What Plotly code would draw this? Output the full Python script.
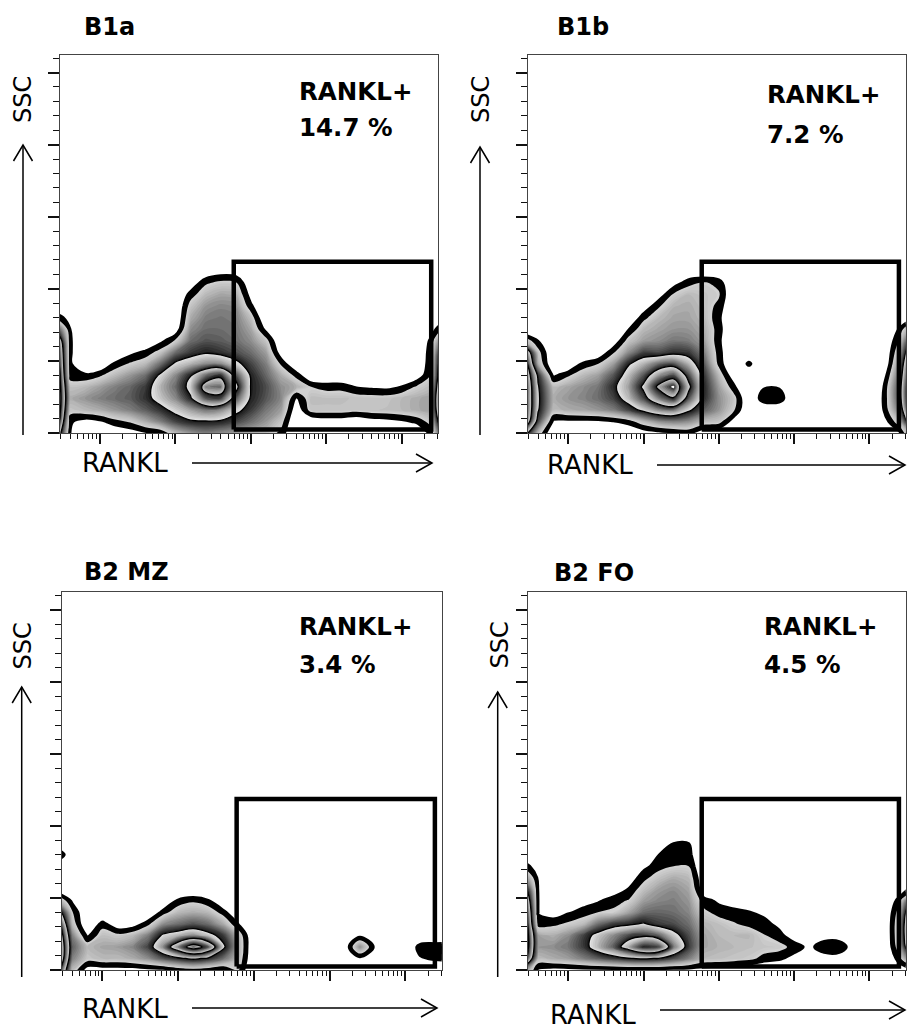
import math
import plotly.graph_objects as go

# ---------------------------------------------------------------------------
# Data
# ---------------------------------------------------------------------------
PANELS = ["B1a", "B1b", "B2 MZ", "B2 FO"]
RANKL_POSITIVE_PCT = [14.7, 7.2, 3.4, 4.5]

# RANKL gate (same gate on every plot): fluorescence and SSC limits
GATE_RANKL = [593, 246600]
GATE_SSC = [2400, 118750]

# Density grid: columns are RANKL bins (log10 of fluorescence),
# rows are SSC bins.  Values are relative event-density levels.
LOG_BINS = [0.4, 0.6, 0.8, 1.0, 1.2, 1.4, 1.6, 1.8, 2.0, 2.2, 2.4, 2.6, 2.8,
            3.0, 3.2, 3.4, 3.6, 3.8, 4.0, 4.2, 4.4, 4.6, 4.8, 5.0, 5.2, 5.4, 5.6]
SSC_BINS = [0, 8000, 16000, 24000, 32000, 40000, 48000, 56000, 64000,
            72000, 80000, 88000, 96000, 104000, 112000, 120000, 128000]

B1A_DENSITY = [
    [6.0, 1.0, 0.0, 0.0, 0.3, 0.5, 0.8, 1.0, 2.0, 2.5, 2.8, 2.6, 2.4, 2.2, 2.0, 1.3, 0.0, 0.0, 0.0, 0.0, 0.0, 0.0, 0.0, 0.0, 0.2, 1.2, 5.0],
    [8.0, 1.1, 0.6, 0.8, 1.3, 1.6, 2.2, 2.8, 3.5, 3.9, 3.95, 3.9, 3.5, 3.0, 2.5, 1.8, 0.0, 0.2, 0.4, 0.4, 0.2, 0.5, 0.6, 0.8, 1.1, 1.8, 7.0],
    [8.5, 1.8, 2.0, 2.2, 2.5, 2.8, 3.2, 3.7, 4.3, 4.8, 5.2, 5.0, 4.3, 3.6, 2.9, 2.4, 0.3, 1.8, 1.85, 1.85, 1.75, 1.85, 1.9, 2.0, 2.2, 2.4, 8.0],
    [8.5, 2.2, 2.5, 2.8, 3.0, 3.2, 3.7, 4.4, 5.0, 5.9, 7.4, 7.6, 5.5, 3.9, 3.3, 2.7, 0.8, 1.95, 1.9, 1.9, 1.85, 1.8, 1.8, 2.0, 2.2, 2.4, 8.5],
    [8.5, 1.9, 2.0, 2.4, 2.8, 3.1, 3.6, 4.6, 5.3, 6.3, 8.6, 8.7, 6.4, 3.95, 3.4, 2.6, 2.2, 1.5, 1.3, 1.3, 0.9, 0.8, 0.7, 1.0, 1.6, 2.0, 8.2],
    [8.5, 1.2, 1.1, 1.4, 2.0, 2.5, 3.0, 4.2, 5.0, 5.95, 7.2, 7.8, 5.6, 3.9, 3.1, 2.2, 1.3, 0.0, 0.0, 0.0, 0.0, 0.0, 0.0, 0.0, 0.4, 1.6, 7.5],
    [8.0, 1.1, 0.0, 0.0, 1.1, 1.6, 2.0, 3.0, 4.2, 4.6, 5.0, 5.0, 4.3, 3.5, 2.8, 1.4, 0.0, 0.0, 0.0, 0.0, 0.0, 0.0, 0.0, 0.0, 0.0, 1.5, 7.0],
    [7.5, 1.1, 0.0, 0.0, 0.0, 0.7, 1.1, 1.8, 3.0, 3.6, 3.9, 3.7, 3.4, 3.0, 2.4, 0.4, 0.0, 0.0, 0.0, 0.0, 0.0, 0.0, 0.0, 0.0, 0.0, 1.4, 6.0],
    [6.5, 1.1, 0.0, 0.0, 0.0, 0.0, 0.0, 0.7, 1.6, 3.0, 3.3, 3.2, 3.0, 2.6, 1.8, 0.0, 0.0, 0.0, 0.0, 0.0, 0.0, 0.0, 0.0, 0.0, 0.0, 1.2, 4.0],
    [4.0, 1.0, 0.0, 0.0, 0.0, 0.0, 0.0, 0.0, 0.3, 2.6, 3.0, 3.0, 2.9, 2.3, 0.7, 0.0, 0.0, 0.0, 0.0, 0.0, 0.0, 0.0, 0.0, 0.0, 0.0, 0.6, 2.0],
    [1.6, 0.5, 0.0, 0.0, 0.0, 0.0, 0.0, 0.0, 0.0, 2.2, 2.8, 2.9, 2.8, 1.9, 0.0, 0.0, 0.0, 0.0, 0.0, 0.0, 0.0, 0.0, 0.0, 0.0, 0.0, 0.0, 0.8],
    [0.0, 0.0, 0.0, 0.0, 0.0, 0.0, 0.0, 0.0, 0.0, 1.8, 2.5, 2.7, 2.6, 1.1, 0.0, 0.0, 0.0, 0.0, 0.0, 0.0, 0.0, 0.0, 0.0, 0.0, 0.0, 0.0, 0.0],
    [0.0, 0.0, 0.0, 0.0, 0.0, 0.0, 0.0, 0.0, 0.0, 1.2, 2.0, 2.3, 2.2, 0.6, 0.0, 0.0, 0.0, 0.0, 0.0, 0.0, 0.0, 0.0, 0.0, 0.0, 0.0, 0.0, 0.0],
    [0.0, 0.0, 0.0, 0.0, 0.0, 0.0, 0.0, 0.0, 0.0, 0.4, 1.4, 1.7, 1.6, 0.3, 0.0, 0.0, 0.0, 0.0, 0.0, 0.0, 0.0, 0.0, 0.0, 0.0, 0.0, 0.0, 0.0],
    [0.0, 0.0, 0.0, 0.0, 0.0, 0.0, 0.0, 0.0, 0.0, 0.0, 0.3, 0.6, 0.5, 0.0, 0.0, 0.0, 0.0, 0.0, 0.0, 0.0, 0.0, 0.0, 0.0, 0.0, 0.0, 0.0, 0.0],
    [0.0, 0.0, 0.0, 0.0, 0.0, 0.0, 0.0, 0.0, 0.0, 0.0, 0.0, 0.0, 0.0, 0.0, 0.0, 0.0, 0.0, 0.0, 0.0, 0.0, 0.0, 0.0, 0.0, 0.0, 0.0, 0.0, 0.0],
    [0.0, 0.0, 0.0, 0.0, 0.0, 0.0, 0.0, 0.0, 0.0, 0.0, 0.0, 0.0, 0.0, 0.0, 0.0, 0.0, 0.0, 0.0, 0.0, 0.0, 0.0, 0.0, 0.0, 0.0, 0.0, 0.0, 0.0],
]

B1B_DENSITY = [
    [5.0, 2.0, 0.0, 0.0, 0.0, 0.0, 0.0, 0.2, 0.4, 0.6, 0.8, 1.0, 0.3, 0.3, 0.0, 0.0, 0.0, 0.0, 0.0, 0.0, 0.0, 0.0, 0.0, 0.0, 0.0, 0.8, 3.0],
    [8.0, 3.5, 0.8, 0.7, 0.7, 0.7, 0.9, 1.2, 2.0, 2.6, 2.8, 2.6, 2.0, 1.8, 0.5, 0.0, 0.0, 0.0, 0.0, 0.0, 0.0, 0.0, 0.0, 0.0, 0.6, 2.0, 6.0],
    [8.5, 4.1, 2.0, 2.2, 2.3, 2.5, 2.8, 3.5, 4.3, 5.0, 5.2, 4.2, 3.2, 2.5, 1.6, 0.0, 0.0, 0.0, 0.0, 0.0, 0.0, 0.0, 0.0, 0.0, 1.05, 3.0, 8.0],
    [8.5, 4.2, 2.2, 2.5, 2.7, 3.0, 3.5, 4.5, 5.6, 7.0, 7.9, 5.5, 3.8, 2.6, 1.8, 0.0, 1.45, 1.45, 0.0, 0.0, 0.0, 0.0, 0.0, 0.0, 1.1, 3.5, 8.5],
    [8.5, 4.1, 2.0, 2.3, 2.6, 2.9, 3.8, 4.8, 6.2, 8.3, 9.15, 6.3, 3.9, 2.4, 1.1, 0.0, 0.9, 0.9, 0.0, 0.0, 0.0, 0.0, 0.0, 0.0, 1.05, 3.5, 8.5],
    [8.0, 3.8, 0.8, 1.4, 2.0, 2.4, 3.3, 4.5, 5.5, 6.8, 7.5, 5.6, 3.7, 2.0, 0.3, 0.0, 0.0, 0.0, 0.0, 0.0, 0.0, 0.0, 0.0, 0.0, 0.6, 3.2, 8.0],
    [7.5, 2.2, 0.0, 0.0, 1.1, 1.5, 2.4, 3.9, 4.6, 5.3, 5.5, 4.6, 3.3, 1.3, 0.0, 1.15, 0.0, 0.0, 0.0, 0.0, 0.0, 0.0, 0.0, 0.0, 0.0, 2.8, 7.5],
    [6.0, 1.8, 0.0, 0.0, 0.0, 0.2, 1.4, 2.6, 3.5, 3.4, 3.7, 3.6, 2.8, 1.2, 0.0, 0.0, 0.0, 0.0, 0.0, 0.0, 0.0, 0.0, 0.0, 0.0, 0.0, 2.2, 6.5],
    [2.2, 0.95, 0.0, 0.0, 0.0, 0.0, 0.3, 1.8, 2.4, 2.6, 2.9, 2.8, 2.4, 1.1, 0.0, 0.0, 0.0, 0.0, 0.0, 0.0, 0.0, 0.0, 0.0, 0.0, 0.0, 1.6, 5.0],
    [0.0, 0.0, 0.0, 0.0, 0.0, 0.0, 0.0, 0.9, 2.0, 2.3, 2.5, 2.5, 2.2, 1.2, 0.0, 0.0, 0.0, 0.0, 0.0, 0.0, 0.0, 0.0, 0.0, 0.0, 0.0, 1.05, 3.0],
    [0.0, 0.0, 0.0, 0.0, 0.0, 0.0, 0.0, 0.0, 1.3, 2.0, 2.3, 2.3, 2.0, 1.1, 0.0, 0.0, 0.0, 0.0, 0.0, 0.0, 0.0, 0.0, 0.0, 0.0, 0.0, 0.2, 0.9],
    [0.0, 0.0, 0.0, 0.0, 0.0, 0.0, 0.0, 0.0, 0.4, 1.4, 2.1, 2.2, 1.9, 1.3, 0.0, 0.0, 0.0, 0.0, 0.0, 0.0, 0.0, 0.0, 0.0, 0.0, 0.0, 0.0, 0.0],
    [0.0, 0.0, 0.0, 0.0, 0.0, 0.0, 0.0, 0.0, 0.0, 0.5, 1.6, 2.0, 1.8, 1.6, 0.0, 0.0, 0.0, 0.0, 0.0, 0.0, 0.0, 0.0, 0.0, 0.0, 0.0, 0.0, 0.0],
    [0.0, 0.0, 0.0, 0.0, 0.0, 0.0, 0.0, 0.0, 0.0, 0.0, 0.6, 1.3, 1.6, 1.3, 0.0, 0.0, 0.0, 0.0, 0.0, 0.0, 0.0, 0.0, 0.0, 0.0, 0.0, 0.0, 0.0],
    [0.0, 0.0, 0.0, 0.0, 0.0, 0.0, 0.0, 0.0, 0.0, 0.0, 0.0, 0.3, 0.2, 0.2, 0.0, 0.0, 0.0, 0.0, 0.0, 0.0, 0.0, 0.0, 0.0, 0.0, 0.0, 0.0, 0.0],
    [0.0, 0.0, 0.0, 0.0, 0.0, 0.0, 0.0, 0.0, 0.0, 0.0, 0.0, 0.0, 0.0, 0.0, 0.0, 0.0, 0.0, 0.0, 0.0, 0.0, 0.0, 0.0, 0.0, 0.0, 0.0, 0.0, 0.0],
    [0.0, 0.0, 0.0, 0.0, 0.0, 0.0, 0.0, 0.0, 0.0, 0.0, 0.0, 0.0, 0.0, 0.0, 0.0, 0.0, 0.0, 0.0, 0.0, 0.0, 0.0, 0.0, 0.0, 0.0, 0.0, 0.0, 0.0],
]

B2MZ_DENSITY = [
    [7.0, 2.0, 0.5, 0.5, 0.5, 0.5, 0.6, 0.6, 1.0, 1.2, 1.0, 0.8, 1.5, 0.0, 0.0, 0.0, 0.0, 0.0, 0.0, 0.0, 0.0, 0.0, 0.0, 0.0, 0.0, 0.0, 0.0],
    [8.5, 2.8, 1.8, 2.0, 2.0, 2.2, 2.6, 3.3, 3.8, 4.2, 3.8, 3.0, 2.0, 0.0, 0.0, 0.0, 0.0, 0.0, 0.0, 0.0, 0.7, 0.0, 0.0, 0.0, 0.9, 1.1, 1.2],
    [8.5, 3.2, 2.0, 2.3, 2.4, 2.7, 3.5, 5.0, 7.0, 8.8, 7.4, 4.2, 2.2, 0.0, 0.0, 0.0, 0.0, 0.0, 0.0, 0.3, 2.6, 0.8, 0.0, 0.0, 1.3, 1.4, 1.4],
    [8.0, 2.8, 0.8, 1.9, 1.7, 2.0, 2.8, 4.2, 4.6, 5.0, 4.4, 3.6, 2.0, 0.0, 0.0, 0.0, 0.0, 0.0, 0.0, 0.0, 0.7, 0.0, 0.0, 0.0, 0.0, 0.0, 0.0],
    [7.0, 2.0, 0.0, 1.2, 0.3, 0.4, 1.3, 2.6, 3.0, 3.3, 3.0, 2.2, 0.9, 0.0, 0.0, 0.0, 0.0, 0.0, 0.0, 0.0, 0.0, 0.0, 0.0, 0.0, 0.0, 0.0, 0.0],
    [5.0, 1.6, 0.0, 0.0, 0.0, 0.0, 0.0, 1.2, 2.0, 2.2, 2.0, 1.2, 0.0, 0.0, 0.0, 0.0, 0.0, 0.0, 0.0, 0.0, 0.0, 0.0, 0.0, 0.0, 0.0, 0.0, 0.0],
    [2.5, 0.8, 0.0, 0.0, 0.0, 0.0, 0.0, 0.0, 1.1, 1.4, 1.05, 0.0, 0.0, 0.0, 0.0, 0.0, 0.0, 0.0, 0.0, 0.0, 0.0, 0.0, 0.0, 0.0, 0.0, 0.0, 0.0],
    [0.3, 0.0, 0.0, 0.0, 0.0, 0.0, 0.0, 0.0, 0.0, 0.0, 0.0, 0.0, 0.0, 0.0, 0.0, 0.0, 0.0, 0.0, 0.0, 0.0, 0.0, 0.0, 0.0, 0.0, 0.0, 0.0, 0.0],
    [0.0, 0.0, 0.0, 0.0, 0.0, 0.0, 0.0, 0.0, 0.0, 0.0, 0.0, 0.0, 0.0, 0.0, 0.0, 0.0, 0.0, 0.0, 0.0, 0.0, 0.0, 0.0, 0.0, 0.0, 0.0, 0.0, 0.0],
    [0.0, 0.0, 0.0, 0.0, 0.0, 0.0, 0.0, 0.0, 0.0, 0.0, 0.0, 0.0, 0.0, 0.0, 0.0, 0.0, 0.0, 0.0, 0.0, 0.0, 0.0, 0.0, 0.0, 0.0, 0.0, 0.0, 0.0],
    [1.9, 0.0, 0.0, 0.0, 0.0, 0.0, 0.0, 0.0, 0.0, 0.0, 0.0, 0.0, 0.0, 0.0, 0.0, 0.0, 0.0, 0.0, 0.0, 0.0, 0.0, 0.0, 0.0, 0.0, 0.0, 0.0, 0.0],
    [0.0, 0.0, 0.0, 0.0, 0.0, 0.0, 0.0, 0.0, 0.0, 0.0, 0.0, 0.0, 0.0, 0.0, 0.0, 0.0, 0.0, 0.0, 0.0, 0.0, 0.0, 0.0, 0.0, 0.0, 0.0, 0.0, 0.0],
    [0.0, 0.0, 0.0, 0.0, 0.0, 0.0, 0.0, 0.0, 0.0, 0.0, 0.0, 0.0, 0.0, 0.0, 0.0, 0.0, 0.0, 0.0, 0.0, 0.0, 0.0, 0.0, 0.0, 0.0, 0.0, 0.0, 0.0],
    [0.0, 0.0, 0.0, 0.0, 0.0, 0.0, 0.0, 0.0, 0.0, 0.0, 0.0, 0.0, 0.0, 0.0, 0.0, 0.0, 0.0, 0.0, 0.0, 0.0, 0.0, 0.0, 0.0, 0.0, 0.0, 0.0, 0.0],
    [0.0, 0.0, 0.0, 0.0, 0.0, 0.0, 0.0, 0.0, 0.0, 0.0, 0.0, 0.0, 0.0, 0.0, 0.0, 0.0, 0.0, 0.0, 0.0, 0.0, 0.0, 0.0, 0.0, 0.0, 0.0, 0.0, 0.0],
    [0.0, 0.0, 0.0, 0.0, 0.0, 0.0, 0.0, 0.0, 0.0, 0.0, 0.0, 0.0, 0.0, 0.0, 0.0, 0.0, 0.0, 0.0, 0.0, 0.0, 0.0, 0.0, 0.0, 0.0, 0.0, 0.0, 0.0],
    [0.0, 0.0, 0.0, 0.0, 0.0, 0.0, 0.0, 0.0, 0.0, 0.0, 0.0, 0.0, 0.0, 0.0, 0.0, 0.0, 0.0, 0.0, 0.0, 0.0, 0.0, 0.0, 0.0, 0.0, 0.0, 0.0, 0.0],
]

B2FO_DENSITY = [
    [3.0, 0.8, 0.6, 0.6, 0.6, 0.6, 0.6, 0.6, 0.6, 0.6, 0.6, 0.6, 0.6, 0.6, 0.5, 0.3, 0.0, 0.0, 0.0, 0.0, 0.0, 0.0, 0.0, 0.0, 0.0, 0.5, 1.0],
    [7.0, 2.0, 2.2, 2.4, 2.8, 3.2, 3.6, 3.95, 4.1, 3.95, 3.4, 2.8, 2.0, 1.9, 1.8, 1.7, 1.3, 1.1, 0.7, 0.3, 0.6, 0.6, 0.0, 0.0, 0.0, 1.3, 4.0],
    [8.0, 2.5, 2.6, 2.9, 3.6, 4.6, 5.4, 6.6, 7.9, 7.6, 5.2, 3.6, 2.3, 2.1, 2.0, 1.9, 1.8, 1.73, 1.3, 0.8, 1.35, 1.35, 0.6, 0.0, 0.0, 2.0, 7.0],
    [8.0, 2.4, 2.17, 2.6, 3.5, 4.4, 5.0, 5.6, 5.8, 5.4, 4.4, 3.4, 2.3, 2.0, 2.0, 2.04, 1.54, 1.2, 0.5, 0.3, 0.6, 0.6, 0.0, 0.0, 0.0, 2.2, 8.0],
    [8.0, 1.2, 1.35, 1.62, 1.95, 3.0, 3.6, 3.8, 4.1, 3.6, 3.4, 3.0, 2.1, 1.875, 1.57, 1.3, 1.2, 0.77, 0.0, 0.0, 0.0, 0.0, 0.0, 0.0, 0.0, 2.2, 8.0],
    [7.5, 0.95, 0.53, 0.9, 1.2, 1.52, 1.62, 2.3, 3.0, 3.1, 3.0, 2.7, 1.68, 1.25, 1.15, 1.03, 0.81, 0.0, 0.0, 0.0, 0.0, 0.0, 0.0, 0.0, 0.0, 1.9, 7.0],
    [6.5, 0.95, 0.0, 0.0, 0.67, 0.89, 1.3, 1.55, 2.4, 2.7, 2.8, 2.5, 1.2, 0.86, 0.65, 0.3, 0.0, 0.0, 0.0, 0.0, 0.0, 0.0, 0.0, 0.0, 0.0, 1.3, 5.0],
    [5.0, 0.9, 0.0, 0.0, 0.0, 0.2, 0.42, 1.02, 1.86, 2.4, 2.6, 2.3, 0.4, 0.0, 0.0, 0.0, 0.0, 0.0, 0.0, 0.0, 0.0, 0.0, 0.0, 0.0, 0.0, 0.3, 1.5],
    [3.0, 0.8, 0.0, 0.0, 0.0, 0.0, 0.0, 0.5, 1.3, 1.86, 2.2, 2.0, 0.2, 0.0, 0.0, 0.0, 0.0, 0.0, 0.0, 0.0, 0.0, 0.0, 0.0, 0.0, 0.0, 0.0, 0.0],
    [1.4, 0.5, 0.0, 0.0, 0.0, 0.0, 0.0, 0.0, 0.79, 1.25, 1.5, 1.5, 0.1, 0.0, 0.0, 0.0, 0.0, 0.0, 0.0, 0.0, 0.0, 0.0, 0.0, 0.0, 0.0, 0.0, 0.0],
    [0.3, 0.0, 0.0, 0.0, 0.0, 0.0, 0.0, 0.0, 0.0, 0.98, 1.2, 1.2, 0.0, 0.0, 0.0, 0.0, 0.0, 0.0, 0.0, 0.0, 0.0, 0.0, 0.0, 0.0, 0.0, 0.0, 0.0],
    [0.0, 0.0, 0.0, 0.0, 0.0, 0.0, 0.0, 0.0, 0.0, 0.3, 0.99, 0.99, 0.0, 0.0, 0.0, 0.0, 0.0, 0.0, 0.0, 0.0, 0.0, 0.0, 0.0, 0.0, 0.0, 0.0, 0.0],
    [0.0, 0.0, 0.0, 0.0, 0.0, 0.0, 0.0, 0.0, 0.0, 0.0, 0.3, 0.3, 0.0, 0.0, 0.0, 0.0, 0.0, 0.0, 0.0, 0.0, 0.0, 0.0, 0.0, 0.0, 0.0, 0.0, 0.0],
    [0.0, 0.0, 0.0, 0.0, 0.0, 0.0, 0.0, 0.0, 0.0, 0.0, 0.0, 0.0, 0.0, 0.0, 0.0, 0.0, 0.0, 0.0, 0.0, 0.0, 0.0, 0.0, 0.0, 0.0, 0.0, 0.0, 0.0],
    [0.0, 0.0, 0.0, 0.0, 0.0, 0.0, 0.0, 0.0, 0.0, 0.0, 0.0, 0.0, 0.0, 0.0, 0.0, 0.0, 0.0, 0.0, 0.0, 0.0, 0.0, 0.0, 0.0, 0.0, 0.0, 0.0, 0.0],
    [0.0, 0.0, 0.0, 0.0, 0.0, 0.0, 0.0, 0.0, 0.0, 0.0, 0.0, 0.0, 0.0, 0.0, 0.0, 0.0, 0.0, 0.0, 0.0, 0.0, 0.0, 0.0, 0.0, 0.0, 0.0, 0.0, 0.0],
    [0.0, 0.0, 0.0, 0.0, 0.0, 0.0, 0.0, 0.0, 0.0, 0.0, 0.0, 0.0, 0.0, 0.0, 0.0, 0.0, 0.0, 0.0, 0.0, 0.0, 0.0, 0.0, 0.0, 0.0, 0.0, 0.0, 0.0],
]

DENSITIES = [B1A_DENSITY, B1B_DENSITY, B2MZ_DENSITY, B2FO_DENSITY]
RANKL_BINS = [10 ** d for d in LOG_BINS]

# ---------------------------------------------------------------------------
# Styling
# ---------------------------------------------------------------------------
W, H = 907, 1030
FONT = "DejaVu Sans"

# contour levels: outer edge at 1, zebra ring boundaries at 4, 6, 8
LV_START, LV_END, LV_STEP = 1.0, 9.5, 0.125
N_LEVELS = int((LV_END - LV_START) / LV_STEP + 1e-6) + 1
LV_LO = LV_START - LV_STEP / 2
LV_HI = LV_START + (N_LEVELS - 0.5) * LV_STEP


def zpos(z):
    return min(1.0, max(0.0, (z - LV_LO) / (LV_HI - LV_LO)))


# (level, grey) stops; each band fades from light to dark toward its inner edge
ZEBRA_STOPS = [
    (LV_LO, 255), (1.0 - 1e-3, 255),
    (1.0, 0), (1.5 - 1e-3, 0),
    (1.5, 212), (2.0, 186), (2.5, 150), (3.0, 110), (3.5, 66), (4.0 - 1e-3, 24),
    (4.0, 232), (4.6, 180), (5.2, 118), (6.0 - 1e-3, 26),
    (6.0, 228), (6.6, 172), (7.2, 108), (8.0 - 1e-3, 24),
    (8.0, 212), (8.5, 146), (9.0 - 1e-3, 44),
    (9.0, 255), (LV_HI, 255),
]
ZEBRA = [[zpos(z), f"rgb({g},{g},{g})"] for z, g in ZEBRA_STOPS]

X_RANGE = [0.462, 5.482]
Y_RANGE = [0, 262144]
MAJOR_X = [10, 100, 1000, 10000, 100000]
MINOR_X = [k * 10 ** d for d in range(0, 6) for k in range(2, 10)
           if X_RANGE[0] < d + math.log10(k) < X_RANGE[1]]

# plot frames in pixels: left, top, right, bottom
FRAMES = [
    (59.5, 55, 438, 433),
    (527.7, 55, 905.7, 433),
    (61.7, 592.3, 441.7, 970),
    (527.7, 592.3, 905.7, 970),
]
TITLE_POS = [(82, 27), (555, 27), (82, 571.5), (552, 573)]
PCT_POS = [(297, 91.5, 127.5), (765, 95, 134), (297, 626.5, 664), (762, 626.5, 664)]
XLABEL_POS = [(80, 463), (545, 465), (80, 1009), (548, 1015)]
XARROW = [(192, 432, 463), (657, 905, 465), (192, 437, 1008), (660, 905, 1010)]
YLABEL_POS = [(23, 100), (481, 100), (22.5, 646), (499.5, 645)]
YARROW = [(23, 435, 145), (480, 435, 147), (21.7, 977, 687), (497.7, 977, 692)]


def fx(x):
    return x / W


def fy(y):
    return 1 - y / H


fig = go.Figure()
annotations = []
shapes = []

for i, grid in enumerate(DENSITIES):
    xa = "x" if i == 0 else f"x{i + 1}"
    ya = "y" if i == 0 else f"y{i + 1}"

    fig.add_trace(go.Contour(
        x=RANKL_BINS, y=SSC_BINS, z=grid, xaxis=xa, yaxis=ya,
        autocontour=False,
        contours=dict(start=LV_START, end=LV_END, size=LV_STEP,
                      coloring="fill", showlines=False),
        colorscale=ZEBRA, showscale=False,
        line=dict(width=0, smoothing=1.0), hoverinfo="skip",
    ))
    fig.add_trace(go.Contour(
        x=RANKL_BINS, y=SSC_BINS, z=grid, xaxis=xa, yaxis=ya,
        autocontour=False,
        contours=dict(start=4, end=8, size=2, coloring="none", showlines=True),
        showscale=False, line=dict(color="black", width=1.3, smoothing=1.0),
        hoverinfo="skip",
    ))
    fig.add_trace(go.Contour(
        x=RANKL_BINS, y=SSC_BINS, z=grid, xaxis=xa, yaxis=ya,
        autocontour=False,
        contours=dict(start=1, end=1, size=1, coloring="none", showlines=True),
        showscale=False, line=dict(color="black", width=3, smoothing=1.0),
        hoverinfo="skip",
    ))
    # RANKL+ gate
    g0, g1 = GATE_RANKL
    s0, s1 = GATE_SSC
    fig.add_trace(go.Scatter(
        x=[g0, g1, g1, g0, g0], y=[s0, s0, s1, s1, s0], xaxis=xa, yaxis=ya,
        mode="lines", line=dict(color="black", width=4.5), hoverinfo="skip",
    ))

    l, t, r, b = FRAMES[i]
    axis_common = dict(showgrid=False, zeroline=False, showticklabels=False,
                       showline=True, linecolor="#444", linewidth=1, mirror=True,
                       ticks="outside", tickcolor="#111")
    fig.layout[("xaxis" if i == 0 else f"xaxis{i + 1}")] = dict(
        domain=[fx(l), fx(r)], anchor=ya, type="log", range=X_RANGE,
        tickmode="array", tickvals=MAJOR_X, ticklen=10, tickwidth=2,
        minor=dict(tickmode="array", tickvals=MINOR_X, ticks="outside",
                   ticklen=5, tickwidth=1.2, tickcolor="#111", showgrid=False),
        **axis_common)
    fig.layout[("yaxis" if i == 0 else f"yaxis{i + 1}")] = dict(
        domain=[fy(b), fy(t)], anchor=xa, range=Y_RANGE,
        tickmode="linear", tick0=0, dtick=50000, ticklen=11, tickwidth=2,
        minor=dict(dtick=10000, tick0=0, ticks="outside", ticklen=5.5,
                   tickwidth=1.2, tickcolor="#111", showgrid=False),
        **axis_common)

    # panel title
    tx, ty = TITLE_POS[i]
    annotations.append(dict(
        text=PANELS[i], x=fx(tx), y=fy(ty), xref="paper", yref="paper",
        xanchor="left", yanchor="middle", showarrow=False,
        font=dict(family=FONT, size=24, color="black", weight="bold")))
    # gate label
    px_, py1, py2 = PCT_POS[i]
    annotations.append(dict(
        text="RANKL+", x=fx(px_), y=fy(py1), xref="paper", yref="paper",
        xanchor="left", yanchor="middle", showarrow=False,
        font=dict(family=FONT, size=24.5, color="black", weight="bold")))
    annotations.append(dict(
        text=f"{RANKL_POSITIVE_PCT[i]} %", x=fx(px_), y=fy(py2),
        xref="paper", yref="paper", xanchor="left", yanchor="middle",
        showarrow=False,
        font=dict(family=FONT, size=24.5, color="black", weight="bold")))
    # axis labels
    lx, ly = XLABEL_POS[i]
    annotations.append(dict(
        text="RANKL", x=fx(lx), y=fy(ly), xref="paper", yref="paper",
        xanchor="left", yanchor="middle", showarrow=False,
        font=dict(family=FONT, size=26, color="black")))
    sx, sy = YLABEL_POS[i]
    annotations.append(dict(
        text="SSC", x=fx(sx), y=fy(sy), xref="paper", yref="paper",
        xanchor="center", yanchor="middle", showarrow=False, textangle=-90,
        font=dict(family=FONT, size=24, color="black")))

    # axis arrows
    ax0, ax1, ay = XARROW[i]
    shapes.append(dict(type="line", xref="paper", yref="paper",
                       x0=fx(ax0), x1=fx(ax1), y0=fy(ay), y1=fy(ay),
                       line=dict(color="black", width=1.5)))
    shapes.append(dict(type="path", xref="paper", yref="paper",
                       path=f"M {fx(ax1 - 16)} {fy(ay - 9)} L {fx(ax1)} {fy(ay)} L {fx(ax1 - 16)} {fy(ay + 9)}",
                       line=dict(color="black", width=1.5)))
    vx, vy0, vy1 = YARROW[i]
    shapes.append(dict(type="line", xref="paper", yref="paper",
                       x0=fx(vx), x1=fx(vx), y0=fy(vy0), y1=fy(vy1),
                       line=dict(color="black", width=1.5)))
    shapes.append(dict(type="path", xref="paper", yref="paper",
                       path=f"M {fx(vx - 9.5)} {fy(vy1 + 16)} L {fx(vx)} {fy(vy1)} L {fx(vx + 9.5)} {fy(vy1 + 16)}",
                       line=dict(color="black", width=1.5)))

fig.update_layout(
    width=W, height=H, margin=dict(l=0, r=0, t=0, b=0),
    paper_bgcolor="white", plot_bgcolor="white", showlegend=False,
    annotations=annotations, shapes=shapes,
)

fig.write_html("out.html")
